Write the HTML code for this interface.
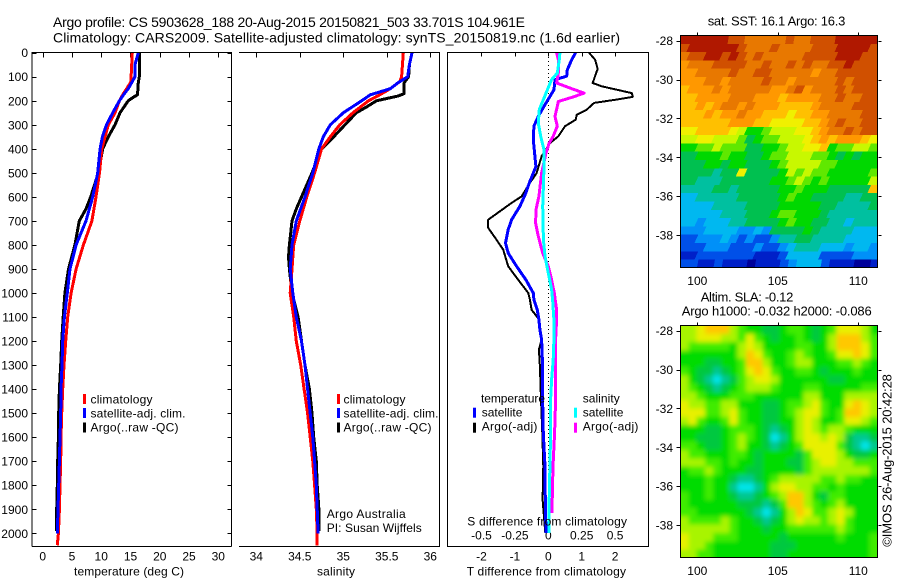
<!DOCTYPE html>
<html>
<head>
<meta charset="utf-8">
<title>Argo profile chart</title>
<style>
html,body{margin:0;padding:0;background:#fff;}
svg{display:block;}
text{font-family:"Liberation Sans",sans-serif;fill:#000;font-size:12px;}
.t14{font-size:14px;}
.t13{font-size:13px;}
.frame{stroke:#000;stroke-width:1;fill:none;shape-rendering:crispEdges;}
</style>
</head>
<body>
<svg id="chart" xmlns="http://www.w3.org/2000/svg" width="900" height="580" viewBox="0 0 900 580">
  <defs>
    <clipPath id="sst-clip"><rect x="681" y="36" width="197" height="232"/></clipPath>
    <clipPath id="sla-clip"><rect x="681" y="326" width="197" height="232"/></clipPath>
    <filter id="sla-blur" filterUnits="userSpaceOnUse" x="650" y="300" width="250" height="280">
      <feGaussianBlur stdDeviation="2.5"/>
    </filter>
  </defs>
  <rect x="0" y="0" width="900" height="580" fill="#fff"/>

  <text class="t14" x="53" y="27" textLength="472" lengthAdjust="spacing">Argo profile: CS 5903628_188 20-Aug-2015 20150821_503 33.701S 104.961E</text>
  <text class="t14" x="53" y="42.5" textLength="567" lengthAdjust="spacing">Climatology: CARS2009. Satellite-adjusted climatology: synTS_20150819.nc (1.6d earlier)</text>

  <g clip-path="url(#sst-clip)"><g id="sst-map"></g></g>
  <g clip-path="url(#sla-clip)"><g id="sla-map" filter="url(#sla-blur)"></g></g>
  <g id="axes"></g>
  <g id="series"></g>

  <!-- panel frames -->
  <path class="frame" d="M32 546.5V52.5H231.5V546.5M32 546.5H231.5"/>
  <path class="frame" d="M239 52.5H439.5V546.5H239"/>
  <path class="frame" d="M447.5 52.5H648.5V546.5H447.5Z"/>
  <rect class="frame" x="680.5" y="35.5" width="197" height="232"/>
  <rect class="frame" x="680.5" y="325.5" width="197" height="232"/>

  <!-- temperature legend -->
  <rect x="83" y="394" width="3" height="10" fill="#f00"/>
  <rect x="83" y="408" width="3" height="10" fill="#00f"/>
  <rect x="83" y="422.5" width="3" height="10" fill="#000"/>
  <text x="90.5" y="403.3" textLength="62" lengthAdjust="spacing">climatology</text>
  <text x="90.5" y="417.3" textLength="95" lengthAdjust="spacing">satellite-adj. clim.</text>
  <text x="90.5" y="431.3" textLength="88" lengthAdjust="spacing">Argo(..raw -QC)</text>

  <!-- salinity legend -->
  <rect x="337" y="394" width="3" height="10" fill="#f00"/>
  <rect x="337" y="408" width="3" height="10" fill="#00f"/>
  <rect x="337" y="422.5" width="3" height="10" fill="#000"/>
  <text x="343.5" y="403.3" textLength="62" lengthAdjust="spacing">climatology</text>
  <text x="343.5" y="417.3" textLength="95" lengthAdjust="spacing">satellite-adj. clim.</text>
  <text x="343.5" y="431.3" textLength="88" lengthAdjust="spacing">Argo(..raw -QC)</text>
  <text x="326.7" y="518" textLength="79" lengthAdjust="spacing">Argo Australia</text>
  <text x="326.7" y="532" textLength="95" lengthAdjust="spacing">PI: Susan Wijffels</text>

  <!-- difference legend -->
  <text x="481" y="402.7" textLength="64" lengthAdjust="spacing">temperature</text>
  <text x="582.7" y="402.7" textLength="37" lengthAdjust="spacing">salinity</text>
  <rect x="473" y="407.7" width="3" height="10" fill="#00f"/>
  <rect x="473" y="422.7" width="3" height="10" fill="#000"/>
  <rect x="574" y="407.7" width="3" height="10" fill="#0ff"/>
  <rect x="574" y="422.7" width="3" height="10" fill="#f0f"/>
  <text x="481.7" y="416.7" textLength="40.7" lengthAdjust="spacing">satellite</text>
  <text x="481.7" y="430.7" textLength="55.7" lengthAdjust="spacing">Argo(-adj)</text>
  <text x="582.7" y="416.7" textLength="40.7" lengthAdjust="spacing">satellite</text>
  <text x="582.7" y="430.7" textLength="55.7" lengthAdjust="spacing">Argo(-adj)</text>

  <text x="467.3" y="525.3" textLength="159.7" lengthAdjust="spacing">S difference from climatology</text>

  <!-- axis titles -->
  <text x="74" y="575.7" textLength="110" lengthAdjust="spacing">temperature (deg C)</text>
  <text x="317" y="575.7" textLength="38" lengthAdjust="spacing">salinity</text>
  <text x="466.7" y="575.7" textLength="159.3" lengthAdjust="spacing">T difference from climatology</text>

  <!-- map titles -->
  <text class="t13" x="707.7" y="25.7" textLength="137.6" lengthAdjust="spacing">sat. SST: 16.1 Argo: 16.3</text>
  <text class="t13" x="700.7" y="301.7" textLength="92.6" lengthAdjust="spacing">Altim. SLA: -0.12</text>
  <text class="t13" x="681.7" y="315.7" textLength="190" lengthAdjust="spacing">Argo h1000: -0.032 h2000: -0.086</text>
  <text class="t13" transform="translate(891.7 546.7) rotate(-90)" x="0" y="0" textLength="172.6" lengthAdjust="spacing">©IMOS 26-Aug-2015 20:42:28</text>
</svg>

<script>
/* ---------- depth axis ---------- */
var depthTicks = [0,100,200,300,400,500,600,700,800,900,1000,1100,1200,1300,1400,1500,1600,1700,1800,1900,2000];

/* ---------- temperature profiles (deg C) ---------- */
var tempTicks = [0,5,10,15,20,25,30];
var tempClimDepth = [0,100,120,150,175,200,250,300,350,400,500,600,700,800,900,1000,1100,1200,1300,1400,1500,1600,1700,1800,1900,2000,2050];
var tempClim = [15.3,15.1,15.1,14.35,13.67,13.1,12.36,11.2,10.65,10.1,9.7,9.1,8.4,6.95,5.7,4.85,4.27,3.93,3.64,3.42,3.25,3.13,3.08,2.96,2.85,2.68,2.5];
var tempSatDepth = [0,50,100,125,150,175,200,250,300,350,400,500,600,700,800,900,1000,1100,1200,1300,1400,1500,1600,1700,1800,1900,2000];
var tempSat = [16.34,15.77,15.77,15.2,14.6,13.8,13.1,11.96,10.9,10.2,9.8,9.4,8.54,7.4,5.7,4.67,4.2,3.7,3.42,3.3,3.13,3.08,2.96,2.85,2.73,2.62,2.5];
var tempArgoDepth = [0,100,125,175,185,200,225,250,300,350,400,500,600,650,700,800,900,1000,1100,1200,1300,1400,1500,1600,1700,1800,1900,1990];
var tempArgo = [16.5,16.5,16.34,16.2,15.5,14.6,13.9,13.2,12.36,11.2,10.25,9.5,8.2,7.4,6.26,5.5,4.4,3.8,3.5,3.25,3.08,2.85,2.73,2.68,2.56,2.5,2.4,2.4];

/* ---------- salinity profiles ---------- */
var salTicks = [34,34.5,35,35.5,36];
var salClimDepth = [0,100,120,150,175,200,250,300,350,400,500,600,700,800,900,1000,1100,1200,1300,1400,1500,1600,1700,1800,1900,2000,2050];
var salClim = [35.69,35.67,35.65,35.54,35.42,35.29,35.11,34.96,34.85,34.75,34.67,34.58,34.5,34.43,34.41,34.39,34.43,34.46,34.51,34.55,34.59,34.62,34.65,34.67,34.69,34.7,34.7];
var salSatDepth = [0,50,100,125,150,175,200,250,300,350,400,500,600,700,800,900,1000,1100,1200,1300,1400,1500,1600,1700,1800,1900,2000];
var salSat = [35.79,35.76,35.74,35.63,35.54,35.31,35.21,35,34.85,34.77,34.72,34.65,34.56,34.46,34.41,34.39,34.42,34.46,34.52,34.56,34.59,34.62,34.65,34.67,34.69,34.7,34.71];
var salArgoDepth = [0,50,100,125,170,180,200,225,250,300,350,400,500,600,650,700,800,850,900,1000,1100,1200,1300,1400,1500,1600,1700,1800,1900,1990];
var salArgo = [35.79,35.76,35.75,35.7,35.7,35.63,35.38,35.27,35.15,35.02,34.89,34.75,34.64,34.52,34.46,34.41,34.38,34.37,34.38,34.41,34.48,34.52,34.56,34.61,34.64,34.66,34.69,34.7,34.72,34.72];

/* ---------- difference profiles ---------- */
var diffTTicks = [-2,-1,0,1,2];
var diffSTicks = [-0.5,-0.25,0,0.25,0.5];
var diffSTickLabels = ['-0.5','-0.25','0','0.25','0.5'];
var dTSatDepth = [0,29,71,98,112,154,182,223,265,306,362,431,473,501,542,584,639,695,736,792,834,889,945,1000,1028,1070,1111,1153,1194,1305,1444,1583,1721,1860,1999];
var dTSat = [0.82,0.7,0.57,0.55,0.2,0.17,0.05,-0.13,-0.3,-0.43,-0.45,-0.4,-0.37,-0.45,-0.57,-0.67,-0.85,-1.1,-1.2,-1.28,-1.2,-0.95,-0.67,-0.45,-0.43,-0.33,-0.28,-0.25,-0.2,-0.17,-0.17,-0.15,-0.1,-0.09,-0.07];
var dTArgoDepth = [0,29,68,85,126,140,168,184,196,209,237,258,279,306,348,376,431,501,542,598,625,660,695,729,778,820,889,945,1000,1028,1070,1111,1194,1236,1305,1444,1583,1721,1860,1999];
var dTArgo = [1.22,1.4,1.48,1.43,1.33,1.6,2.5,2.53,2,1.37,1.15,0.85,0.82,0.5,0.3,0.05,-0.2,-0.35,-0.55,-0.8,-1.1,-1.45,-1.8,-1.8,-1.55,-1.35,-1.2,-0.9,-0.6,-0.55,-0.5,-0.27,-0.2,-0.28,-0.25,-0.22,-0.18,-0.15,-0.17,-0.09];
var dSArgoDepth = [0,29,85,126,147,168,184,203,223,265,306,348,376,417,501,598,653,709,764,834,889,945,1000,1070,1111,1194,1305,1444,1583,1721,1916];
var dSArgo = [0.062,0.075,0.075,0.062,0.162,0.267,0.187,0.075,0.067,0.05,0.067,0.037,0.007,-0.017,-0.05,-0.07,-0.092,-0.095,-0.075,-0.042,0,0.025,0.045,0.062,0.062,0.055,0.055,0.055,0.047,0.035,0.027];
var dSSatDepth = [0,29,85,112,154,195,236,293,348,404,473,556,639,778,847,917,986,1028,1111,1194,1278,1361,1444,1583,1721,1860,1999];
var dSSat = [0.087,0.082,0.067,0.025,-0.007,-0.037,-0.067,-0.075,-0.057,-0.032,-0.032,-0.037,-0.042,-0.037,-0.025,0,0.025,0.032,0.042,0.042,0.037,0.025,0.017,0.017,0.012,0.007,0.007];

/* ---------- map axes ---------- */
var lonTicks = [100,105,110];
var latTicks = [-28,-30,-32,-34,-36,-38];

/* ---------- SST map, colour-level per cell, north to south ---------- */
var sstGrid = [
[15,15,15,15,15,15,14,14,13,13,13,13,13,14,13,13,14,14,14,15,15,15,15,15],
[14,15,15,15,15,15,15,14,13,13,13,14,13,13,13,13,14,14,14,15,15,15,15,14],
[13,14,14,15,15,14,15,14,13,14,13,13,13,13,13,14,14,14,14,15,15,15,14,14],
[12,13,13,13,14,14,14,14,13,13,14,13,13,14,13,14,13,13,14,14,15,14,14,14],
[12,12,13,13,13,13,14,13,13,14,14,13,13,13,13,13,12,13,13,14,14,14,14,14],
[12,12,12,13,13,12,13,13,13,13,14,13,13,12,13,13,13,13,13,14,13,14,14,14],
[11,12,12,12,13,12,13,13,13,13,13,12,12,13,14,12,13,13,13,14,13,14,14,14],
[11,11,12,12,12,12,13,13,13,12,12,12,11,12,12,12,12,13,13,14,13,13,14,14],
[11,11,12,11,12,13,13,12,13,12,12,12,11,11,11,11,12,13,13,13,13,14,14,14],
[11,11,11,12,11,12,12,13,12,12,11,11,11,10,11,11,12,12,13,13,13,13,14,14],
[11,11,11,11,11,11,12,12,12,11,11,10,10,10,10,11,11,12,13,14,13,13,14,14],
[10,10,11,11,11,11,10,9,7,7,8,9,9,9,10,10,11,12,13,13,14,13,14,14],
[9,9,10,10,9,9,9,8,6,7,8,8,9,9,9,10,11,12,11,12,12,12,11,10],
[7,7,8,8,9,8,8,8,6,6,7,7,8,9,9,10,10,11,7,8,8,9,9,8],
[6,6,7,7,7,8,7,7,6,6,7,8,8,9,9,9,8,8,7,6,7,6,7,7],
[6,6,6,7,7,6,7,7,6,6,6,7,8,9,9,9,9,8,8,7,7,7,7,7],
[6,6,6,6,5,6,6,10,6,6,6,6,7,9,8,9,8,8,7,7,7,7,7,8],
[6,6,5,5,5,6,6,6,6,6,6,7,7,8,9,8,7,8,7,7,7,7,7,9],
[5,5,5,5,6,6,5,6,6,6,6,6,7,7,8,7,7,7,6,6,6,6,6,11],
[4,4,5,5,5,5,5,6,6,6,6,6,7,8,7,7,6,6,6,6,5,5,6,6],
[4,4,4,4,5,5,5,5,6,6,6,6,7,7,7,7,7,6,6,5,5,5,5,6],
[4,4,4,4,4,5,5,5,6,6,6,7,8,8,7,7,7,6,5,5,5,5,5,5],
[4,4,3,4,4,4,5,5,6,6,6,6,7,8,7,7,6,6,5,5,4,5,5,5],
[3,3,3,4,4,4,4,3,3,4,3,6,6,6,6,7,6,5,5,5,5,4,4,4],
[2,2,3,3,3,4,3,2,3,2,2,3,5,5,6,6,5,5,5,5,4,4,4,4],
[2,2,2,3,3,3,2,2,2,3,2,2,3,4,5,5,5,4,4,4,3,4,4,3],
[1,1,2,2,2,2,2,2,2,1,1,1,2,4,4,4,4,2,2,2,2,3,3,3],
[2,2,1,1,2,1,1,1,0,1,1,1,2,3,4,4,4,2,1,1,1,0,0,1]
];

/* ---------- SLA map, colour-level per cell, north to south ---------- */
var slaGrid = [
[9,9,10,11,11,11,9,8,7,7,6,6,7,8,8,7,6,7,8,10,10,10,9,7],
[9,9,10,10,10,9,9,8,10,8,7,6,7,7,8,7,6,7,9,11,11,11,9,8],
[9,8,8,8,8,8,7,9,10,9,7,7,7,7,8,8,7,7,9,11,11,11,10,8],
[7,7,7,7,7,7,7,9,11,10,8,7,7,8,9,8,7,7,8,10,10,11,10,8],
[7,7,7,6,6,7,7,8,11,11,9,7,7,8,9,9,7,7,7,8,8,9,8,7],
[8,7,6,6,5,6,7,8,10,11,10,8,7,7,8,8,7,6,7,7,7,8,7,7],
[9,7,6,5,4,5,6,8,9,10,10,9,7,7,7,7,7,7,6,6,7,7,7,7],
[9,8,7,6,5,6,7,8,9,9,9,8,7,7,7,8,8,7,7,7,7,7,8,8],
[9,9,8,7,7,7,8,8,8,7,7,7,7,7,7,9,9,7,7,7,9,9,9,9],
[10,9,9,8,8,9,9,7,7,7,6,6,7,8,8,9,10,8,7,7,10,11,10,9],
[10,10,10,8,8,9,10,8,7,7,6,6,7,8,9,10,10,8,7,8,11,11,10,9],
[9,10,8,7,7,8,10,8,7,7,6,6,7,7,9,10,9,7,7,8,10,10,9,8],
[7,7,7,6,6,7,8,8,8,7,6,5,6,7,9,10,9,8,9,9,8,7,7,7],
[7,7,6,6,6,7,8,9,8,7,6,4,5,7,9,10,10,9,10,9,6,5,5,6],
[8,8,7,6,6,7,8,9,7,7,6,5,6,7,8,10,10,10,10,8,6,5,4,5],
[9,8,8,7,7,7,8,8,7,6,7,7,7,7,6,8,10,10,10,9,7,6,6,7],
[9,9,9,8,8,7,8,7,7,6,7,7,7,6,6,8,9,10,10,9,9,8,8,8],
[7,8,8,9,8,7,7,7,6,6,7,7,7,7,6,8,9,9,9,9,9,9,9,8],
[7,7,7,8,7,7,6,5,5,6,7,8,9,9,9,9,9,8,8,9,8,8,7,7],
[7,7,7,8,7,7,5,4,4,5,7,9,10,10,9,9,8,8,7,8,7,7,7,7],
[8,7,7,8,7,7,6,5,5,6,7,8,9,11,11,9,7,6,8,8,7,7,7,7],
[8,7,7,7,7,7,7,6,6,6,5,6,8,11,11,9,8,7,8,9,7,7,7,7],
[8,8,7,7,7,7,7,7,6,5,4,5,7,9,11,10,8,8,9,10,9,7,7,7],
[9,8,8,8,8,9,8,7,7,6,5,6,7,9,10,9,9,8,9,10,8,7,7,7],
[9,9,9,9,9,9,8,7,7,7,6,7,7,8,8,8,8,8,8,9,8,7,7,7],
[10,9,9,9,8,8,8,7,7,7,7,7,6,7,7,7,7,7,7,8,7,7,7,8],
[10,9,9,8,7,7,7,7,7,7,7,6,6,6,7,7,7,7,7,7,7,7,7,8],
[9,9,8,8,7,7,7,7,7,7,7,6,6,7,7,7,7,7,7,7,7,7,7,8]
];

/* ---------- colours for map levels ---------- */
var sstColors = ['#00009a','#0020c8','#0050e8','#0090f8','#00b8f0','#00c0a0','#00c050','#00d800','#60e800','#c8f800','#f0f000','#ffc000','#ff9800','#e87800','#d05000','#b01800'];
var slaColors = ['#00009a','#0020c8','#0050e8','#0090f8','#00e4e8','#00c890','#00c840','#00dc00','#40ec00','#a8f400','#e8f000','#ffc800','#ff9800','#e87800','#d05000','#b01800'];

/* ---------- axis functions ---------- */
var NS = 'http://www.w3.org/2000/svg';
function yDepth(d){ return 52.7 + d * 0.2403; }
function xTemp(t){ return 42.7 + t * 5.853; }
function xSal(s){ return 256.3 + (s - 34) * 87; }
function xDiffT(t){ return 548.3 + t * 33.4; }
function xDiffS(s){ return 548.3 + s * 133.6; }
function xLon(l){ return 697.3 + (l - 100) * 16.1; }
function yLatTop(l){ return 40.7 + (-28 - l) * 19.43; }
function yLatBottom(l){ return 330.7 + (-28 - l) * 19.43; }

var axesLayer = document.getElementById('axes');
var seriesLayer = document.getElementById('series');

function addLine(x1, y1, x2, y2, name) {
  var el = document.createElementNS(NS, 'line');
  el.setAttribute('x1', Math.round(x1) + 0.5);
  el.setAttribute('y1', Math.round(y1) + 0.5);
  el.setAttribute('x2', Math.round(x2) + 0.5);
  el.setAttribute('y2', Math.round(y2) + 0.5);
  el.setAttribute('stroke', '#000');
  el.setAttribute('stroke-width', '1');
  el.setAttribute('shape-rendering', 'crispEdges');
  
  
  axesLayer.appendChild(el);
}

function addLabel(x, y, str, anchor, name) {
  var el = document.createElementNS(NS, 'text');
  el.setAttribute('x', x);
  el.setAttribute('y', y);
  el.setAttribute('text-anchor', anchor);
  el.textContent = str;
  
  
  axesLayer.appendChild(el);
}

function addProfile(depths, values, xFn, color, width, name) {
  var pts = [];
  for (var i = 0; i < depths.length; i++) {
    pts.push(xFn(values[i]).toFixed(1) + ',' + yDepth(depths[i]).toFixed(1));
  }
  var el = document.createElementNS(NS, 'polyline');
  el.setAttribute('points', pts.join(' '));
  el.setAttribute('fill', 'none');
  el.setAttribute('stroke', color);
  el.setAttribute('stroke-width', width);
  el.setAttribute('stroke-linejoin', 'round');
  el.setAttribute('shape-rendering', 'crispEdges');
  
  
  seriesLayer.appendChild(el);
}

/* cells are drawn as slanted quads to follow the map's diagonal swath texture */
function addMap(parent, grid, colors, yFn, slant, name) {
  var rows = grid.length;
  var cols = grid[0].length;
  var lonStart = 98.93, lonStep = (111.2 - 98.93) / cols;
  var latStart = -27.7, latStep = (39.66 - 27.7) / rows;
  for (var r = rows - 1; r >= 0; r--) {
    for (var c = 0; c < cols; c++) {
      var x0 = xLon(lonStart + c * lonStep);
      var x1 = xLon(lonStart + (c + 1) * lonStep) + 0.6;
      var y0 = yFn(latStart - r * latStep);
      var y1 = yFn(latStart - (r + 1) * latStep) + 0.6;
      if (c === 0) { x0 -= 14; }
      if (c === cols - 1) { x1 += 14; }
      if (r === 0) { y0 -= 14; }
      if (r === rows - 1) { y1 += 14; }
      var cell = document.createElementNS(NS, 'polygon');
      cell.setAttribute('points',
        (x0 + slant).toFixed(1) + ',' + y0.toFixed(1) + ' ' +
        (x1 + slant).toFixed(1) + ',' + y0.toFixed(1) + ' ' +
        (x1 - slant).toFixed(1) + ',' + y1.toFixed(1) + ' ' +
        (x0 - slant).toFixed(1) + ',' + y1.toFixed(1));
      cell.setAttribute('fill', colors[grid[r][c]]);
      cell.setAttribute('shape-rendering', 'crispEdges');
      
      
      parent.appendChild(cell);
    }
  }
}

/* ---------- depth ticks ---------- */
depthTicks.forEach(function (d) {
  var y = yDepth(d);
  addLine(32, y, 36, y, 'depth-tick-left');
  addLine(227, y, 231, y, 'depth-tick-right');
  addLabel(28, y + 4.5, String(d), 'end', 'depth-tick-label');
});

/* ---------- x ticks ---------- */
tempTicks.forEach(function (t) {
  var x = xTemp(t);
  addLine(x, 52, x, 57, 'temperature-tick');
  addLabel(x, 560.7, String(t), 'middle', 'temperature-tick-label');
});
salTicks.forEach(function (s) {
  var x = xSal(s);
  addLine(x, 52, x, 57, 'salinity-tick');
  addLabel(x, 560.7, String(s), 'middle', 'salinity-tick-label');
});
diffTTicks.forEach(function (t) {
  var x = xDiffT(t);
  addLine(x, 52, x, 56, 'diff-t-tick');
  addLabel(x, 560.7, String(t), 'middle', 'diff-t-tick-label');
});
diffSTicks.forEach(function (s, i) {
  addLabel(xDiffS(s), 539.3, diffSTickLabels[i], 'middle', 'diff-s-tick-label');
});

/* ---------- zero line on difference panel ---------- */
(function () {
  var el = document.createElementNS(NS, 'line');
  el.setAttribute('x1', Math.round(xDiffT(0)) + 0.5);
  el.setAttribute('x2', Math.round(xDiffT(0)) + 0.5);
  el.setAttribute('y1', 53);
  el.setAttribute('y2', 530);
  el.setAttribute('stroke', '#000');
  el.setAttribute('stroke-dasharray', '1 3');
  el.setAttribute('shape-rendering', 'crispEdges');
  
  
  seriesLayer.appendChild(el);
})();

/* ---------- profile series ---------- */
addProfile(tempArgoDepth, tempArgo, xTemp, '#000', 3, 'temperature-argo-line');
addProfile(tempClimDepth, tempClim, xTemp, '#f00', 3, 'temperature-climatology-line');
addProfile(tempSatDepth, tempSat, xTemp, '#00f', 3, 'temperature-satellite-line');

addProfile(salArgoDepth, salArgo, xSal, '#000', 3, 'salinity-argo-line');
addProfile(salClimDepth, salClim, xSal, '#f00', 3, 'salinity-climatology-line');
addProfile(salSatDepth, salSat, xSal, '#00f', 3, 'salinity-satellite-line');

addProfile(dTArgoDepth, dTArgo, xDiffT, '#000', 2, 'diff-temperature-argo-line');
addProfile(dTSatDepth, dTSat, xDiffT, '#00f', 3, 'diff-temperature-satellite-line');
addProfile(dSArgoDepth, dSArgo, xDiffS, '#f0f', 3, 'diff-salinity-argo-line');
addProfile(dSSatDepth, dSSat, xDiffS, '#0ff', 3, 'diff-salinity-satellite-line');

/* ---------- maps ---------- */
addMap(document.getElementById('sst-map'), sstGrid, sstColors, yLatTop, 2, 'sst-cell');
addMap(document.getElementById('sla-map'), slaGrid, slaColors, yLatBottom, 0, 'sla-cell');

lonTicks.forEach(function (l) {
  var x = xLon(l);
  addLine(x, 32, x, 35, 'sst-lon-tick');
  addLabel(x, 285, String(l), 'middle', 'sst-lon-label');
  addLine(x, 322, x, 325, 'sla-lon-tick');
  addLabel(x, 575, String(l), 'middle', 'sla-lon-label');
});
latTicks.forEach(function (l) {
  var yt = yLatTop(l);
  var yb = yLatBottom(l);
  addLine(676, yt, 680, yt, 'sst-lat-tick-left');
  addLine(878, yt, 881, yt, 'sst-lat-tick-right');
  addLabel(673, yt + 4.5, String(l), 'end', 'sst-lat-label');
  addLine(676, yb, 680, yb, 'sla-lat-tick-left');
  addLine(878, yb, 881, yb, 'sla-lat-tick-right');
  addLabel(673, yb + 4.5, String(l), 'end', 'sla-lat-label');
});
</script>
</body>
</html>
